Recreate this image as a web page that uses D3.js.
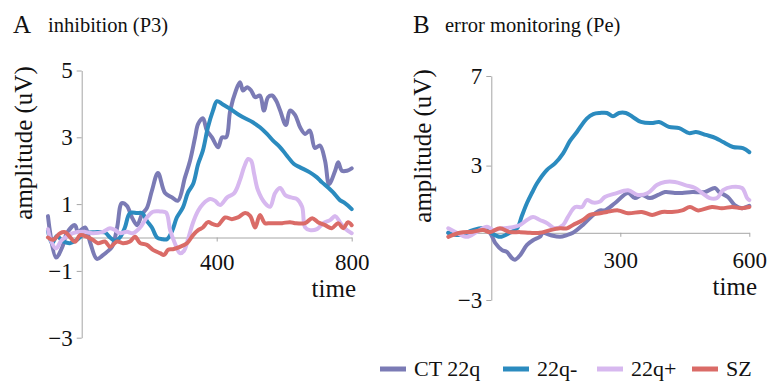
<!DOCTYPE html>
<html>
<head>
<meta charset="utf-8">
<script src="https://cdn.jsdelivr.net/npm/d3@7"></script>
<style>
  body { margin: 0; background: #fff; }
  svg text { font-family: "Liberation Serif", "Times New Roman", serif; fill: #111; }
</style>
</head>
<body>
<div id="chart"></div>
<script>
// series names / colours (legend order)
const seriesNames = ["CT 22q", "22q-", "22q+", "SZ"];
const seriesColors = ["#7b7bb5", "#2b8bbf", "#d7b8ef", "#da6b67"];

// panel A: inhibition (P3), [time ms, amplitude uV]
const ctA = [[-100,0.64],[-76,-0.6],[-58,-0.3],[-44,0.13],[-20,0.37],[-11,0.17],[10,0.3],[25,-0.15],[45,-0.64],[63,-0.53],[75,-0.43],[90,-0.28],[105,0.3],[119,1.03],[134,0.95],[149,0.6],[164,0.37],[179,0.7],[193,0.88],[208,1.4],[226,1.93],[247,1.33],[268,1.2],[285,1.1],[306,1.8],[321,2.3],[336,3.0],[345,3.4],[359,3.57],[371,3.2],[386,3.0],[404,2.7],[416,3.0],[428,3.0],[440,3.8],[457,4.4],[469,4.65],[478,4.4],[490,4.5],[502,4.4],[514,4.2],[528,4.25],[540,3.8],[552,4.2],[564,4.25],[576,4.1],[588,3.8],[605,3.37],[617,3.8],[632,3.67],[647,3.3],[662,3.1],[676,3.2],[691,2.68],[706,2.75],[721,2.3],[733,1.6],[751,2.0],[760,2.25],[771,2.0],[786,2.0],[800,2.07]];
const negA = [[-100,0.2],[-88,-0.17],[-73,0.05],[-58,-0.1],[-35,-0.17],[-14,-0.07],[10,0.13],[39,0.16],[69,0.15],[84,0.0],[99,-0.1],[113,0.0],[128,0.3],[143,0.73],[164,0.73],[179,0.73],[193,0.5],[208,0.3],[223,0.0],[238,-0.05],[253,-0.05],[268,0.2],[282,0.6],[300,0.9],[315,1.35],[330,1.6],[345,2.2],[359,2.6],[374,3.3],[389,3.8],[401,4.08],[416,4.0],[440,3.85],[469,3.65],[507,3.45],[528,3.3],[549,3.1],[567,2.9],[588,2.7],[608,2.45],[629,2.2],[647,2.1],[676,1.95],[697,1.8],[712,1.65],[730,1.5],[745,1.35],[765,1.12],[777,1.05],[800,0.85]];
const posA = [[-100,0.25],[-91,-0.1],[-76,-0.33],[-61,-0.1],[-49,0.0],[-26,0.13],[4,0.17],[33,0.13],[63,0.17],[84,0.28],[99,0.22],[113,0.13],[134,0.17],[152,0.13],[173,0.3],[193,0.6],[211,0.77],[232,0.78],[250,0.75],[262,0.22],[276,-0.17],[291,-0.47],[303,-0.4],[315,-0.05],[330,0.45],[345,0.8],[359,1.0],[380,1.15],[395,1.1],[410,0.97],[431,1.2],[452,1.33],[469,1.72],[481,2.1],[493,2.35],[502,2.3],[511,1.9],[522,1.42],[543,1.03],[558,0.92],[573,1.33],[588,1.48],[603,1.27],[620,1.2],[638,1.15],[653,0.92],[662,0.3],[676,0.22],[697,0.25],[716,0.43],[736,0.52],[751,0.64],[765,0.46],[777,0.3],[789,0.2],[800,0.13]];
const szA = [[-100,0.0],[-85,-0.07],[-64,0.13],[-49,0.16],[-35,0.02],[-20,-0.13],[-5,0.07],[16,0.02],[33,-0.07],[48,-0.17],[69,-0.12],[84,-0.28],[105,-0.12],[122,-0.17],[143,-0.12],[158,0.02],[173,-0.17],[193,-0.22],[211,-0.37],[232,-0.47],[244,-0.52],[256,-0.37],[270,-0.35],[291,-0.28],[312,-0.17],[330,0.07],[345,0.22],[359,0.3],[374,0.46],[389,0.4],[404,0.37],[425,0.6],[445,0.55],[463,0.6],[484,0.73],[499,0.65],[514,0.3],[528,0.67],[543,0.43],[558,0.43],[573,0.43],[594,0.43],[617,0.46],[632,0.43],[662,0.43],[683,0.58],[700,0.46],[721,0.37],[741,0.28],[760,0.43],[775,0.28],[789,0.46],[800,0.37]];

// panel B: error monitoring (Pe)
const ctB = [[-100,0.0],[-73,-0.1],[-43,0.05],[-19,0.2],[-3,0.0],[9,-0.45],[25,-0.77],[36,-0.85],[48,-1.13],[55,-1.2],[67,-1.0],[83,-0.54],[97,-0.33],[113,-0.18],[120,0.0],[137,-0.1],[160,-0.18],[176,-0.1],[190,0.0],[213,0.35],[237,0.8],[253,1.0],[264,1.0],[288,1.33],[318,1.78],[334,1.55],[350,1.69],[369,1.55],[388,1.69],[404,1.82],[427,1.78],[444,1.78],[467,1.82],[497,1.82],[520,2.0],[530,1.82],[550,1.6],[566,1.24],[583,1.1],[600,1.2]];
const negB = [[-100,0.0],[-73,-0.1],[-43,0.12],[-19,0.2],[-3,0.03],[20,-0.18],[43,0.0],[60,0.2],[71,0.75],[83,1.33],[95,1.8],[106,2.2],[129,2.8],[148,3.1],[167,3.55],[183,4.1],[199,4.5],[222,5.1],[237,5.3],[253,5.35],[269,5.35],[283,5.2],[297,5.35],[313,5.35],[329,5.17],[348,4.95],[376,4.9],[390,4.95],[413,4.73],[437,4.67],[460,4.45],[476,4.5],[499,4.37],[522,4.23],[539,4.05],[562,3.83],[585,3.78],[600,3.6]];
const posB = [[-100,0.2],[-80,0.0],[-57,-0.18],[-33,0.05],[-10,0.27],[4,0.13],[27,0.2],[50,0.25],[67,0.35],[83,0.57],[97,0.7],[113,0.57],[130,0.43],[148,0.2],[167,0.35],[178,0.7],[195,1.15],[211,1.15],[222,1.46],[237,1.35],[253,1.4],[264,1.6],[288,1.75],[318,1.9],[341,1.69],[364,1.78],[385,2.13],[404,2.27],[427,2.27],[451,2.13],[474,2.0],[490,1.78],[508,1.55],[525,1.55],[539,1.91],[560,2.05],[583,2.0],[595,1.55],[600,1.46]];
const szB = [[-100,-0.18],[-73,0.0],[-43,0.05],[-19,0.12],[-3,0.03],[20,0.2],[43,0.03],[67,0.03],[90,0.0],[113,0.0],[137,0.12],[160,0.2],[176,0.2],[190,0.35],[213,0.57],[229,0.8],[253,0.87],[269,0.93],[295,1.0],[318,0.87],[350,0.93],[374,0.8],[397,0.93],[420,0.93],[444,1.0],[462,1.15],[481,1.0],[513,1.15],[536,1.1],[560,1.15],[583,1.1],[600,1.15]];

// tick labels
const yTicksA = [-3, -1, 1, 3, 5];
const xTicksA = [400, 800];
const yTicksB = [-3, 3, 7];
const xTicksB = [300, 600];

const width = 772, height = 381;
const serif = '"Liberation Serif", "Times New Roman", serif';

const svg = d3.select("#chart").append("svg")
  .attr("width", width)
  .attr("height", height)
  .attr("font-family", serif);

svg.append("rect").attr("width", width).attr("height", height).attr("fill", "#fff");

const drawPanel = (opt) => {
  const x = d3.scaleLinear().domain(opt.xDomain).range(opt.xRange);
  const y = d3.scaleLinear().domain(opt.yDomain).range(opt.yRange);
  const g = svg.append("g");

  // y axis at time 0
  const yAxis = g.append("g")
    .attr("transform", "translate(" + x(0) + ",0)")
    .call(d3.axisLeft(y).tickValues(opt.yTicks).tickSize(5).tickSizeOuter(0).tickPadding(4).tickFormat(d3.format("d")));
  // x axis at amplitude 0
  const xAxis = g.append("g")
    .attr("transform", "translate(0," + y(0) + ")")
    .call(d3.axisBottom(x).tickValues(opt.xTicks).tickSize(4).tickSizeOuter(0).tickPadding(opt.xPad));

  [yAxis, xAxis].forEach(a => {
    a.attr("font-family", serif);
    a.select(".domain").attr("stroke", "#a6a6a6");
    a.selectAll(".tick line").attr("stroke", "#a6a6a6");
    a.selectAll("text").style("font-size", "23px").attr("fill", "#111");
  });

  const line = d3.line()
    .x(d => x(d[0]))
    .y(d => y(d[1]))
    .curve(d3.curveCatmullRom.alpha(0.5));

  opt.series.forEach((s, i) => {
    g.append("path")
      .datum(s)
      .attr("d", line)
      .attr("fill", "none")
      .attr("stroke", seriesColors[i])
      .attr("stroke-width", 4)
      .attr("stroke-linejoin", "round")
      .attr("stroke-linecap", "round");
  });

  // titles
  g.append("text")
    .attr("x", opt.letterX).attr("y", 33)
    .style("font-size", "25px")
    .text(opt.letter);
  g.append("text")
    .attr("x", opt.letterX + opt.subDx).attr("y", 32)
    .style("font-size", "20.5px")
    .text(opt.subtitle);

  g.append("text")
    .attr("transform", "translate(" + opt.labelX + "," + opt.labelY + ") rotate(-90)")
    .attr("text-anchor", "middle")
    .style("font-size", "25px")
    .text("amplitude (uV)");

  g.append("text")
    .attr("x", opt.timeX).attr("y", opt.timeY)
    .attr("text-anchor", "end")
    .style("font-size", "25px")
    .text("time");
};

drawPanel({
  xDomain: [-100, 800], xRange: [47.95, 351.7],
  yDomain: [-3, 5], yRange: [337.7, 70.5],
  yTicks: yTicksA, xTicks: xTicksA, xPad: 12,
  series: [ctA, negA, posA, szA],
  letter: "A", letterX: 13, subDx: 35, subtitle: "inhibition (P3)",
  labelX: 32, labelY: 143,
  timeX: 356, timeY: 297
});

drawPanel({
  xDomain: [-100, 600], xRange: [448.3, 749.3],
  yDomain: [-3, 7], yRange: [300, 76],
  yTicks: yTicksB, xTicks: xTicksB, xPad: 15,
  series: [ctB, negB, posB, szB],
  letter: "B", letterX: 413, subDx: 32, subtitle: "error monitoring (Pe)",
  labelX: 431, labelY: 146,
  timeX: 757, timeY: 295
});

// legend
const legendX = [380, 503, 597, 692];
const legend = svg.append("g").attr("transform", "translate(0,369)");
const item = legend.selectAll("g").data(seriesNames).enter().append("g")
  .attr("transform", (d, i) => "translate(" + legendX[i] + ",0)");
item.append("line")
  .attr("x1", 0).attr("x2", 26)
  .attr("stroke", (d, i) => seriesColors[i])
  .attr("stroke-width", 5);
item.append("text")
  .attr("x", 34).attr("y", 7)
  .style("font-size", "22px")
  .text(d => d);
</script>
</body>
</html>
